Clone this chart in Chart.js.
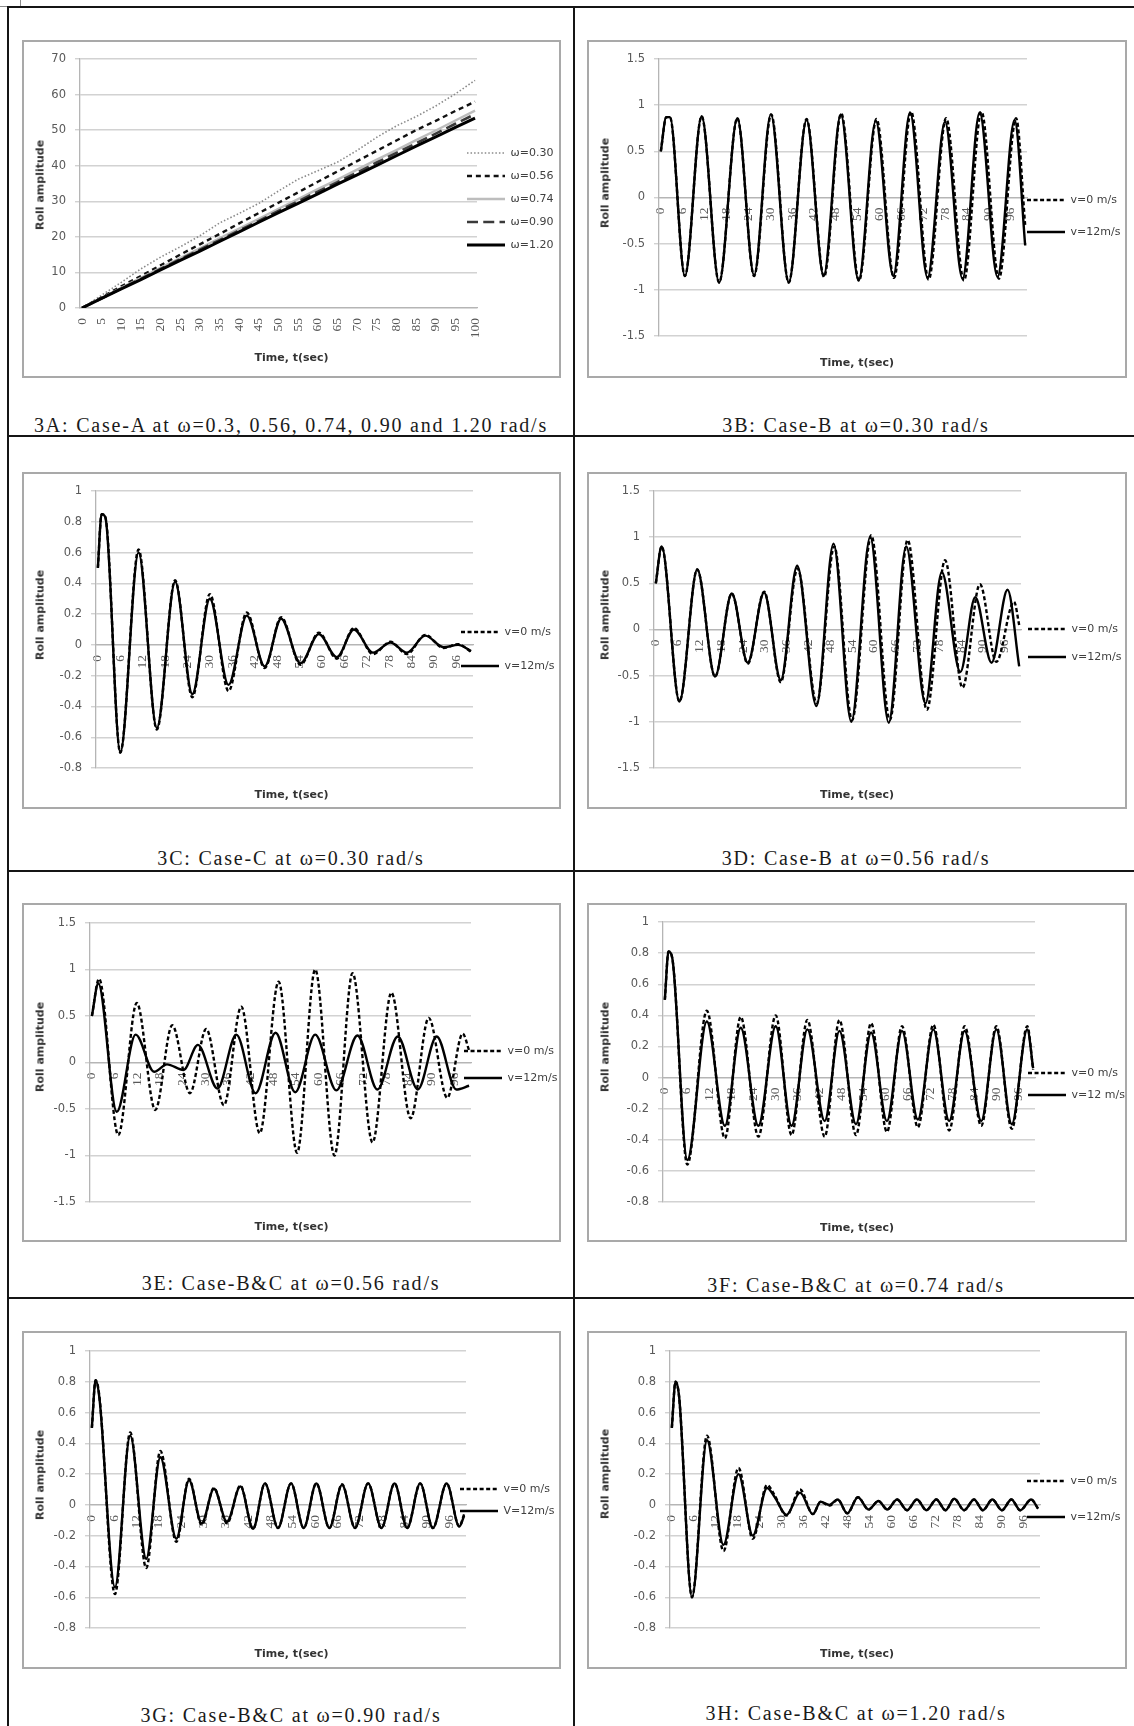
<!DOCTYPE html>
<html>
<head>
<meta charset="utf-8">
<title>Roll amplitude - Case A, B, C</title>
<script src="https://cdn.jsdelivr.net/npm/chart.js@4.4.1/dist/chart.umd.min.js"></script>
<style>
  html, body { margin: 0; padding: 0; background: #fff; }
  body { position: relative; width: 1134px; height: 1726px; overflow: hidden; }
  .rule { position: absolute; background: #151515; }
  .frame { position: absolute; box-sizing: border-box; border: 2px solid #a9a9a9; background: #fff; }
  .frame canvas { display: block; }
  .cap { position: absolute; transform: translate(-50%, -50%); white-space: nowrap;
         font-family: "Liberation Serif", "Times New Roman", serif; font-size: 20px; letter-spacing: 1.8px; color: #1a1a1a; }
  .ytitle { position: absolute; transform: translate(-50%, -50%) rotate(-90deg); white-space: nowrap;
            font-family: "DejaVu Sans", sans-serif; font-size: 11px; font-weight: bold; color: #333; }
  .handle { position: absolute; left: -1px; top: -1px; width: 22px; height: 8px; box-sizing: border-box; border: 1px solid #8c8c8c; }
</style>
</head>
<body>
<div class="handle"></div>
<!-- table rules -->
<div class="rule" style="left:7px;top:6px;width:1127px;height:2px"></div>
<div class="rule" style="left:7px;top:6px;width:2px;height:1720px"></div>
<div class="rule" style="left:573px;top:6px;width:2px;height:1720px"></div>
<div class="rule" style="left:7px;top:435px;width:1127px;height:2px"></div>
<div class="rule" style="left:7px;top:870px;width:1127px;height:2px"></div>
<div class="rule" style="left:7px;top:1297px;width:1127px;height:2px"></div>

<div class="cap" style="left:291px;top:425px">3A: Case-A at ω=0.3, 0.56, 0.74, 0.90 and 1.20 rad/s</div>
<div class="cap" style="left:856px;top:425px">3B: Case-B at ω=0.30 rad/s</div>
<div class="cap" style="left:291px;top:858px">3C: Case-C at ω=0.30 rad/s</div>
<div class="cap" style="left:856px;top:858px">3D: Case-B at ω=0.56 rad/s</div>
<div class="cap" style="left:291px;top:1283px">3E: Case-B&amp;C at ω=0.56 rad/s</div>
<div class="cap" style="left:856px;top:1285px">3F: Case-B&amp;C at ω=0.74 rad/s</div>
<div class="cap" style="left:291px;top:1715px">3G: Case-B&amp;C at ω=0.90 rad/s</div>
<div class="cap" style="left:856px;top:1713px">3H: Case-B&amp;C at ω=1.20 rad/s</div>

<script>
// ---------------------------------------------
// tick labels
// ---------------------------------------------
var ticksT5 = [0, 5, 10, 15, 20, 25, 30, 35, 40, 45, 50, 55, 60, 65, 70, 75, 80, 85, 90, 95, 100];
var ticksT6 = [0, 6, 12, 18, 24, 30, 36, 42, 48, 54, 60, 66, 72, 78, 84, 90, 96];
var ticksA = [0, 10, 20, 30, 40, 50, 60, 70];
var ticks15 = [-1.5, -1, -0.5, 0, 0.5, 1, 1.5];
var ticks08 = [-0.8, -0.6, -0.4, -0.2, 0, 0.2, 0.4, 0.6, 0.8, 1];

// ---------------------------------------------
// 3A: Case-A, roll amplitude vs time (every 5 s)
// ---------------------------------------------
var tA = [0, 5, 10, 15, 20, 25, 30, 35, 40, 45, 50, 55, 60, 65, 70, 75, 80, 85, 90, 95, 100];
var w030 = [0, 3.6, 7.2, 11.0, 14.3, 17.2, 20.3, 23.9, 26.6, 29.4, 32.9, 36.2, 38.6, 41.0, 44.3, 48.0, 51.2, 53.8, 56.8, 60.2, 64.0];
var w056 = [0, 3.0, 6.1, 9.0, 12.0, 15.0, 17.9, 20.8, 23.8, 26.7, 29.6, 32.5, 35.5, 38.4, 41.3, 44.2, 47.1, 50.0, 52.6, 55.4, 58.0];
var w074 = [0, 2.8, 5.7, 8.5, 11.3, 14.0, 16.8, 19.6, 22.3, 25.1, 27.9, 30.6, 33.4, 36.1, 38.9, 41.7, 44.4, 47.2, 49.9, 52.7, 55.5];
var w090 = [0, 2.7, 5.5, 8.2, 11.0, 13.7, 16.4, 19.1, 21.8, 24.5, 27.3, 30.0, 32.7, 35.4, 38.1, 40.9, 43.6, 46.3, 49.0, 51.8, 54.5];
var w120 = [0, 2.7, 5.4, 8.0, 10.7, 13.4, 16.0, 18.7, 21.4, 24.1, 26.8, 29.4, 32.1, 34.8, 37.4, 40.1, 42.8, 45.5, 48.1, 50.8, 53.4];

// ---------------------------------------------
// 3B..3H: times (s) of peaks / troughs and their amplitudes
// ---------------------------------------------
var tB12 = [0, 1.5, 2.5, 6.6, 11.2, 16.0, 21.0, 25.6, 30.2, 35.1, 40.0, 44.7, 49.4, 54.3, 59.0, 63.8, 68.4, 73.2, 78.0, 82.8, 87.5, 92.4, 97.1, 100];
var yB12 = [0.5, 0.87, 0.87, -0.85, 0.88, -0.92, 0.86, -0.84, 0.9, -0.92, 0.84, -0.85, 0.9, -0.9, 0.83, -0.85, 0.92, -0.87, 0.82, -0.88, 0.92, -0.86, 0.84, -0.52];
var tB0 = [0, 1.5, 2.5, 6.6, 11.2, 16.0, 21.0, 25.6, 30.3, 35.1, 40.0, 44.8, 49.5, 54.4, 59.2, 64.0, 68.7, 73.5, 78.3, 83.2, 88.0, 92.8, 97.5, 100];
var yB0 = [0.5, 0.87, 0.87, -0.85, 0.88, -0.92, 0.86, -0.85, 0.9, -0.92, 0.85, -0.86, 0.91, -0.9, 0.85, -0.87, 0.93, -0.89, 0.86, -0.9, 0.93, -0.88, 0.86, -0.3];

var tC = [0, 1.0, 2.0, 6.0, 10.9, 15.8, 20.7, 25.3, 30.0, 35.0, 39.9, 44.7, 49.1, 54.3, 59.2, 64.0, 68.6, 73.7, 78.4, 82.8, 87.7, 92.6, 96.5, 100];
var yC12 = [0.5, 0.85, 0.83, -0.7, 0.6, -0.54, 0.41, -0.32, 0.3, -0.26, 0.19, -0.14, 0.17, -0.12, 0.07, -0.08, 0.1, -0.05, 0.015, -0.05, 0.06, -0.015, 0.0, -0.04];
var yC0 = [0.5, 0.85, 0.83, -0.7, 0.62, -0.55, 0.42, -0.34, 0.33, -0.3, 0.21, -0.15, 0.18, -0.13, 0.08, -0.09, 0.11, -0.06, 0.02, -0.06, 0.065, -0.02, 0.005, -0.045];

var tD12 = [0, 1.6, 6.5, 11.4, 16.3, 20.9, 25.3, 29.8, 34.4, 38.9, 44.2, 48.9, 53.8, 59.0, 64.1, 68.9, 74.2, 78.7, 83.8, 87.9, 92.4, 96.8, 100];
var yD12 = [0.5, 0.9, -0.78, 0.65, -0.51, 0.39, -0.36, 0.4, -0.55, 0.69, -0.83, 0.93, -1.0, 1.0, -1.01, 0.9, -0.8, 0.62, -0.46, 0.35, -0.36, 0.43, -0.4];
var tD0 = [0, 1.6, 6.5, 11.4, 16.3, 20.9, 25.3, 29.8, 34.4, 39.0, 44.3, 49.1, 54.0, 59.3, 64.4, 69.3, 74.6, 79.6, 84.4, 89.2, 93.7, 98.6, 100];
var yD0 = [0.5, 0.9, -0.78, 0.65, -0.51, 0.39, -0.37, 0.41, -0.57, 0.66, -0.8, 0.9, -0.98, 1.02, -0.98, 0.97, -0.87, 0.75, -0.63, 0.49, -0.35, 0.3, 0.05];

var tE0 = [0, 1.9, 7.0, 11.9, 16.8, 21.3, 26.0, 30.3, 35.0, 39.6, 44.5, 49.5, 54.4, 59.2, 64.3, 69.1, 74.4, 79.4, 84.5, 89.3, 94.2, 98.3, 100];
var yE0 = [0.5, 0.9, -0.78, 0.64, -0.51, 0.4, -0.33, 0.36, -0.46, 0.6, -0.76, 0.87, -0.97, 1.0, -1.0, 0.96, -0.86, 0.75, -0.6, 0.48, -0.38, 0.31, 0.13];
var tE12 = [0, 1.7, 6.6, 11.6, 16.5, 19.9, 24.3, 28.1, 33.3, 38.3, 43.4, 48.7, 53.9, 59.2, 64.8, 70.4, 75.7, 81.1, 86.4, 91.4, 96.6, 100];
var yE12 = [0.5, 0.85, -0.53, 0.3, -0.1, -0.02, -0.08, 0.19, -0.28, 0.3, -0.33, 0.32, -0.32, 0.3, -0.3, 0.29, -0.29, 0.28, -0.29, 0.28, -0.29, -0.25];

var tF = [0, 1.0, 2.0, 6.1, 11.4, 16.3, 20.6, 25.4, 30.1, 34.4, 38.7, 43.4, 47.4, 51.9, 56.0, 60.3, 64.4, 68.7, 72.9, 77.2, 81.4, 85.9, 90.0, 94.2, 98.4, 100];
var yF12 = [0.5, 0.81, 0.77, -0.53, 0.36, -0.31, 0.32, -0.31, 0.33, -0.31, 0.31, -0.28, 0.3, -0.3, 0.29, -0.28, 0.3, -0.27, 0.31, -0.28, 0.3, -0.28, 0.31, -0.3, 0.31, 0.06];
var yF0 = [0.5, 0.81, 0.77, -0.56, 0.43, -0.39, 0.39, -0.38, 0.4, -0.37, 0.37, -0.38, 0.37, -0.37, 0.35, -0.35, 0.33, -0.32, 0.34, -0.34, 0.33, -0.31, 0.33, -0.33, 0.33, 0.05];

var tG = [0, 1.0, 2.0, 6.2, 10.3, 14.6, 18.4, 22.7, 26.1, 29.5, 32.8, 36.3, 39.9, 43.3, 46.5, 50.0, 53.5, 56.9, 60.3, 63.8, 67.2, 70.7, 74.2, 77.8, 81.3, 84.7, 88.2, 91.6, 95.3, 98.7, 100];
var yG12 = [0.5, 0.81, 0.7, -0.535, 0.45, -0.35, 0.31, -0.22, 0.16, -0.12, 0.105, -0.11, 0.12, -0.155, 0.14, -0.15, 0.14, -0.15, 0.14, -0.15, 0.13, -0.15, 0.14, -0.15, 0.14, -0.15, 0.14, -0.15, 0.14, -0.14, -0.07];
var yG0 = [0.5, 0.81, 0.71, -0.58, 0.47, -0.41, 0.35, -0.24, 0.17, -0.13, 0.11, -0.12, 0.125, -0.155, 0.14, -0.15, 0.14, -0.15, 0.14, -0.15, 0.135, -0.15, 0.14, -0.15, 0.14, -0.15, 0.14, -0.15, 0.14, -0.14, -0.06];

var tH = [0, 1.0, 2.0, 5.5, 9.6, 14.1, 18.2, 22.1, 26.0, 28.1, 31.3, 35.0, 38.5, 40.6, 43.0, 45.3, 47.9, 50.8, 53.7, 56.4, 58.8, 61.5, 64.2, 66.9, 69.5, 72.2, 74.7, 77.1, 79.8, 82.5, 84.9, 87.5, 90.1, 92.7, 95.1, 98.1, 100];
var yH12 = [0.5, 0.8, 0.7, -0.6, 0.42, -0.26, 0.2, -0.2, 0.11, 0.05, -0.065, 0.08, -0.06, 0.02, 0.0, 0.035, -0.055, 0.05, -0.03, 0.025, -0.03, 0.035, -0.035, 0.035, -0.035, 0.035, -0.035, 0.04, -0.035, 0.035, -0.035, 0.035, -0.035, 0.035, -0.035, 0.035, -0.025];
var yH0 = [0.5, 0.8, 0.7, -0.6, 0.45, -0.3, 0.24, -0.22, 0.13, 0.06, -0.07, 0.1, -0.06, 0.02, -0.005, 0.035, -0.055, 0.05, -0.03, 0.025, -0.03, 0.035, -0.035, 0.035, -0.035, 0.035, -0.035, 0.04, -0.035, 0.035, -0.035, 0.035, -0.035, 0.035, -0.035, 0.035, -0.025];

// ---------------------------------------------
// page layout (px): frame = chart border box, plot = l, r, top, bottom
// legend = [x of line sample, y of first entry, spacing]
// ---------------------------------------------
var layout = {
    A: {frame: [22, 40, 539, 338], plot: [80, 477, 59, 308], xTitleY: 358, yTitle: [40, 185], legend: [467, 153, 23]},
    B: {frame: [587, 40, 540, 338], plot: [659, 1027, 59, 336], xTitleY: 363, yTitle: [605, 183], legend: [1027, 200, 32]},
    C: {frame: [22, 472, 539, 337], plot: [96, 473, 491, 768], xTitleY: 795, yTitle: [40, 615], legend: [461, 632, 34]},
    D: {frame: [587, 472, 540, 337], plot: [654, 1021, 491, 768], xTitleY: 795, yTitle: [605, 615], legend: [1028, 629, 28]},
    E: {frame: [22, 903, 539, 339], plot: [90, 471, 923, 1202], xTitleY: 1227, yTitle: [40, 1047], legend: [464, 1051, 27]},
    F: {frame: [587, 903, 540, 339], plot: [663, 1035, 922, 1202], xTitleY: 1228, yTitle: [605, 1047], legend: [1028, 1073, 22]},
    G: {frame: [22, 1331, 539, 338], plot: [90, 466, 1351, 1628], xTitleY: 1654, yTitle: [40, 1475], legend: [460, 1489, 22]},
    H: {frame: [587, 1331, 540, 338], plot: [670, 1040, 1351, 1628], xTitleY: 1654, yTitle: [605, 1474], legend: [1027, 1481, 36]}
};

var LEGEND_FONT = 11;
var SAMPLE_W = 38;   // legend line sample length; dash patterns below repeat evenly over it

// moves the right-hand legend where Excel had it (it overlaps the plot a bit)
var legendPlace = {
    id: 'legendPlace',
    afterLayout: function (chart, args, o) {
        var lg = chart.legend;
        if (!lg || !lg.legendItems || o.x === undefined) {
            return;
        }
        var n = lg.legendItems.length;
        var dx = o.x - (lg.left + o.pad);
        var first = (lg.top + o.pad + lg.bottom - n * (o.fs + o.pad)) / 2 + o.fs / 2;
        var dy = o.y - first;
        lg.left += dx;
        lg.right = chart.width;
        lg.width = lg.right - lg.left;
        lg.top += dy;
        lg.bottom += dy;
    }
};

function pts(t, y) {
    return t.map(function (v, i) {
        return {x: v, y: y[i]};
    });
}

function serie(label, t, y, color, width, dash, order, smooth) {
    return {
        label: label,
        data: pts(t, y),
        borderColor: color,
        backgroundColor: 'rgba(0,0,0,0)',
        borderWidth: width,
        borderDash: dash,
        order: order,
        pointRadius: 0,
        pointHoverRadius: 0,
        tension: 0,
        cubicInterpolationMode: smooth ? 'monotone' : 'default'
    };
}

function speedPair(t0, y0, t12, y12, label12) {
    return [
        serie('v=0 m/s', t0, y0, '#000', 2.4, [4, 2.545], 1, true),
        serie(label12, t12, y12, '#000', 2.4, [], 0, true)
    ];
}

function drawPanel(key, datasets, xTicks, yTicks) {
    var L = layout[key];
    var ox = L.frame[0] + 2, oy = L.frame[1] + 2;
    var cw = L.frame[2] - 4, ch = L.frame[3] - 4;

    var frame = document.createElement('div');
    frame.className = 'frame';
    frame.style.left = L.frame[0] + 'px';
    frame.style.top = L.frame[1] + 'px';
    frame.style.width = L.frame[2] + 'px';
    frame.style.height = L.frame[3] + 'px';
    var cv = document.createElement('canvas');
    cv.width = cw;
    cv.height = ch;
    cv.style.width = cw + 'px';
    cv.style.height = ch + 'px';
    frame.appendChild(cv);
    document.body.appendChild(frame);

    var yt = document.createElement('div');
    yt.className = 'ytitle';
    yt.textContent = 'Roll amplitude';
    yt.style.left = L.yTitle[0] + 'px';
    yt.style.top = L.yTitle[1] + 'px';
    document.body.appendChild(yt);

    var plotL = L.plot[0] - ox, plotR = L.plot[1] - ox;
    var plotT = L.plot[2] - oy, plotB = L.plot[3] - oy;
    var lh = 11 * 1.2;
    var pb = ch - (L.xTitleY - oy) - lh / 2;
    var pt = (ch - plotB) - lh - pb;
    var pad = L.legend[2] - LEGEND_FONT;

    new Chart(cv, {
        type: 'line',
        data: {datasets: datasets},
        plugins: [legendPlace],
        options: {
            responsive: false,
            animation: false,
            devicePixelRatio: 1,
            events: [],
            layout: {padding: {left: 0, right: 0, top: plotT, bottom: 0}},
            scales: {
                x: {
                    type: 'linear',
                    position: {y: 0},
                    min: -0.5,
                    max: 100.5,
                    grid: {display: false, drawTicks: false},
                    border: {display: true, color: '#b5b5b5', width: 1.3},
                    ticks: {
                        autoSkip: false,
                        minRotation: 90,
                        maxRotation: 90,
                        padding: 10,
                        color: '#595959',
                        font: {family: 'Liberation Serif', size: 13.5},
                        callback: function (v) { return String(v); }
                    },
                    afterBuildTicks: function (s) {
                        s.ticks = xTicks.map(function (v) { return {value: v}; });
                    },
                    afterFit: function (s) { s.height = 0; }
                },
                y: {
                    position: 'left',
                    min: yTicks[0],
                    max: yTicks[yTicks.length - 1],
                    grid: {color: '#d2d2d2', lineWidth: 1.4, drawTicks: true, tickLength: 5},
                    border: {display: true, color: '#b5b5b5', width: 1.3},
                    ticks: {
                        padding: 9,
                        color: '#595959',
                        font: {family: 'DejaVu Sans', size: 11.5},
                        callback: function (v) { return String(v); }
                    },
                    afterBuildTicks: function (s) {
                        s.ticks = yTicks.map(function (v) { return {value: v}; });
                    },
                    afterFit: function (s) { s.width = plotL; }
                }
            },
            plugins: {
                tooltip: {enabled: false},
                legend: {
                    position: 'right',
                    align: 'center',
                    maxWidth: cw - plotR,
                    labels: {
                        usePointStyle: false,
                        boxWidth: SAMPLE_W,
                        boxHeight: 0,
                        padding: pad,
                        color: '#404040',
                        font: {family: 'DejaVu Sans', size: LEGEND_FONT},
                        sort: function (a, b) { return a.datasetIndex - b.datasetIndex; }
                    }
                },
                legendPlace: {x: L.legend[0] - ox, y: L.legend[1] - oy, pad: pad, fs: LEGEND_FONT},
                title: {
                    display: true,
                    text: 'Time, t(sec)',
                    position: 'bottom',
                    align: 'center',
                    color: '#333',
                    font: {family: 'DejaVu Sans', size: 11, weight: 'bold', lineHeight: 1.2},
                    padding: {top: pt, bottom: pb}
                }
            }
        }
    });
}

// 3A
drawPanel('A', [
    serie('\u03c9=0.30', tA, w030, '#8a8a8a', 1.6, [1.5, 2.048], 4, false),
    serie('\u03c9=0.56', tA, w056, '#111', 2.4, [5, 3.875], 3, false),
    serie('\u03c9=0.74', tA, w074, '#bdbdbd', 2.4, [], 2, false),
    serie('\u03c9=0.90', tA, w090, '#3a3a3a', 2.6, [11, 5.25], 1, false),
    serie('\u03c9=1.20', tA, w120, '#000', 3, [], 0, false)
], ticksT5, ticksA);

drawPanel('B', speedPair(tB0, yB0, tB12, yB12, 'v=12m/s'), ticksT6, ticks15);
drawPanel('C', speedPair(tC, yC0, tC, yC12, 'v=12m/s'), ticksT6, ticks08);
drawPanel('D', speedPair(tD0, yD0, tD12, yD12, 'v=12m/s'), ticksT6, ticks15);
drawPanel('E', speedPair(tE0, yE0, tE12, yE12, 'v=12m/s'), ticksT6, ticks15);
drawPanel('F', speedPair(tF, yF0, tF, yF12, 'v=12 m/s'), ticksT6, ticks08);
drawPanel('G', speedPair(tG, yG0, tG, yG12, 'V=12m/s'), ticksT6, ticks08);
drawPanel('H', speedPair(tH, yH0, tH, yH12, 'v=12m/s'), ticksT6, ticks08);
</script>
</body>
</html>
